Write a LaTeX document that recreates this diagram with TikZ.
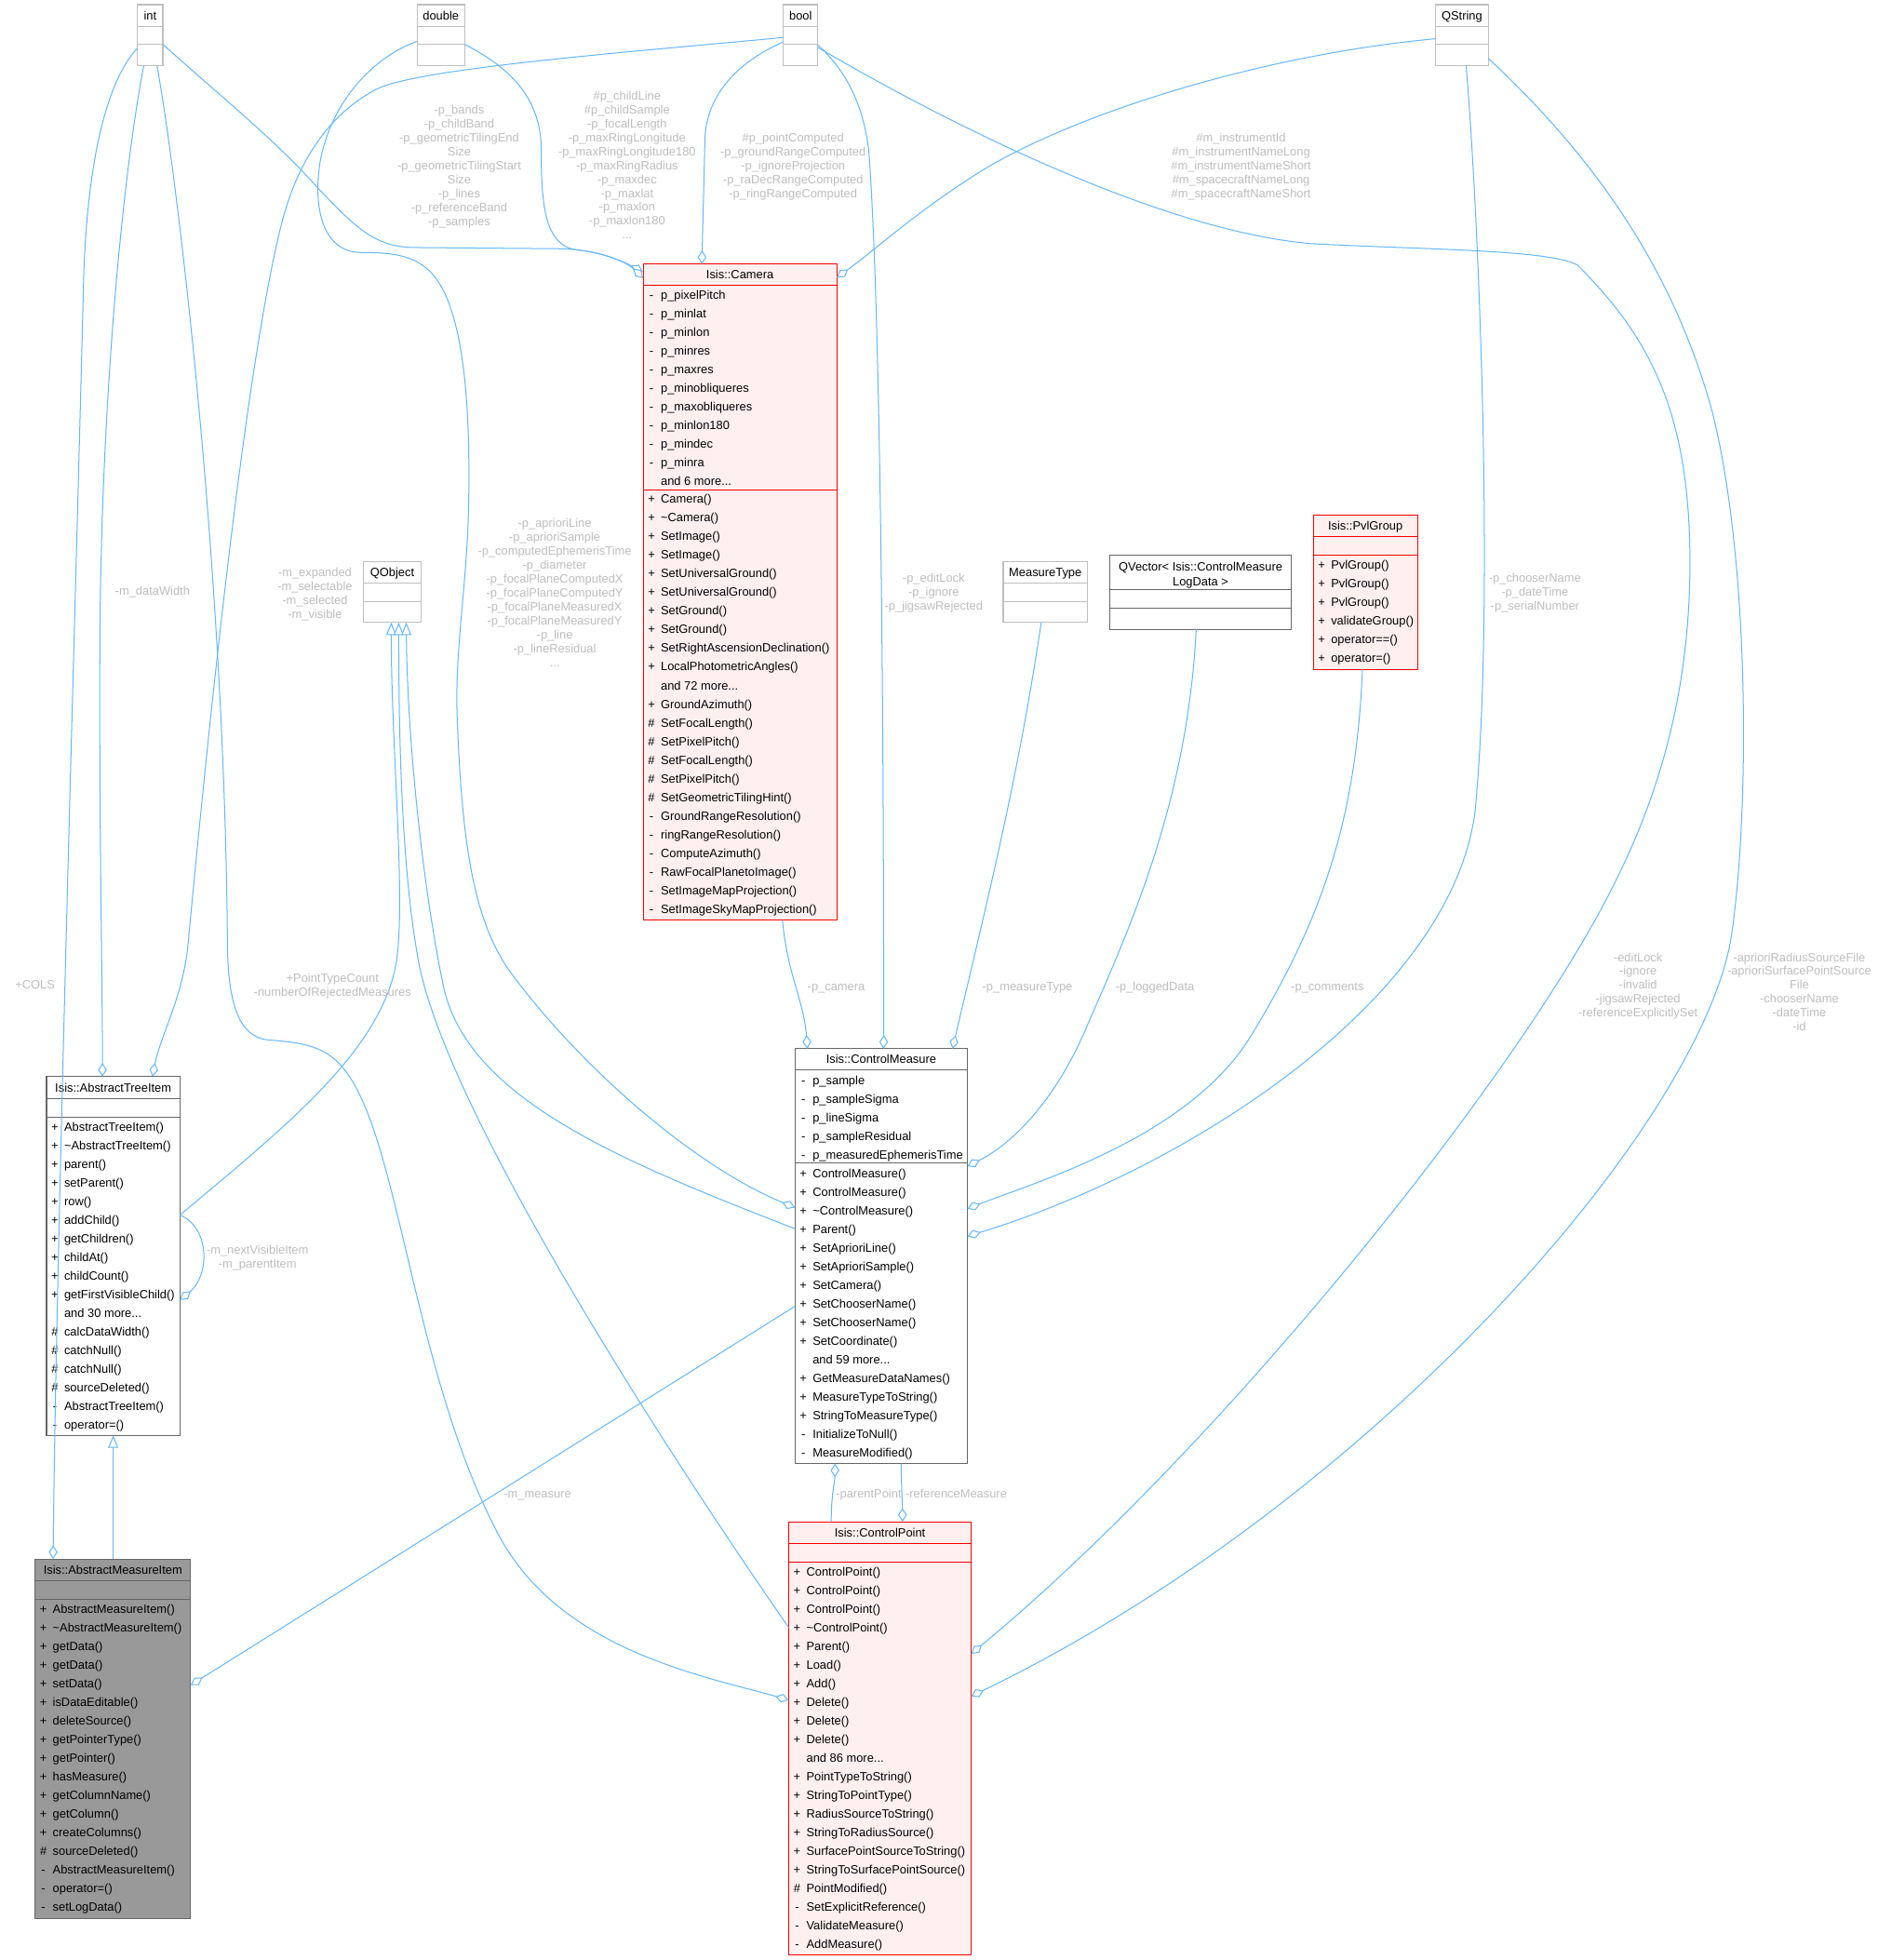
\documentclass[tikz,border=0pt]{standalone}
\usepackage{fontspec}
\setmainfont{Liberation Sans}
\usetikzlibrary{arrows.meta}
\definecolor{edgec}{HTML}{63B8FF}
\definecolor{lblc}{HTML}{BEBEBE}
\definecolor{docc}{HTML}{666666}
\definecolor{undocc}{HTML}{BFBFBF}
\definecolor{redc}{HTML}{FF0000}
\definecolor{redf}{HTML}{FFF0F0}
\definecolor{focusc}{HTML}{999999}
\newcommand\rowfont{\fontsize{9.6}{11.15}\selectfont}
\newcommand\dd{.\kern0pt.\kern0pt.}
\tikzset{
  bx/.style={rectangle, inner sep=0pt, outer sep=0pt, line width=0.8pt, anchor=north west},
  undoc/.style={bx, draw=undocc, fill=white},
  docb/.style={bx, draw=docc, fill=white},
  hot/.style={bx, draw=redc, fill=redf},
  focus/.style={bx, draw=docc, fill=focusc},
  rowt/.style={inner sep=0pt, font=\rowfont, text=black},
  lblt/.style={inner sep=0pt, font=\rowfont, text=lblc, anchor=base},
  edge/.style={draw=edgec, line width=0.75pt},
  comp/.style={edge, -{Diamond[fill=white, length=11pt, width=7pt, line width=0.75pt]}},
  inh/.style={edge, {Triangle[fill=white, length=10pt, width=8pt, line width=0.75pt]}-},
}
% separator line inside a box
\newcommand\hsep[3]{\draw[#1, line width=0.8pt] (#2.west |- 0,#3) -- (#2.east |- 0,#3);}
% member rows: name prefix, left x, first row centre y, list prefix/text
\newcommand\rows[4]{%
  \foreach \rpre/\rtxt [count=\i from 0] in {#4} {%
    \node[rowt, anchor=base] (#1p\i) at (#2+6.7, #3+3.4+14.9*\i) {\rpre};
    \node[rowt, anchor=base west] (#1t\i) at (#2+14, #3+3.4+14.9*\i) {\rtxt};
  }}
% edge label lines: name prefix, centre x, first line centre y, list
\newcommand\lbl[4]{%
  \foreach \lline [count=\i from 0] in {#4} {%
    \node[lblt] (#1\i) at (#2, #3+3.4+11.15*\i) {\lline};
  }}
\begin{document}
\begin{tikzpicture}[x=1pt,y=-1pt]
\fill[white] (0,0) rectangle (1502,1568);
\useasboundingbox (0,0) rectangle (1502,1568);

% ---------- simple boxes ----------
\node[undoc, minimum width=20.3pt, minimum height=48.9pt] (int) at (110,3.7) {};
\hsep{undocc}{int}{21.1}\hsep{undocc}{int}{35.5}
\node[rowt, anchor=base] (intT) at (120.15,15.8) {int};

\node[undoc, minimum width=38pt, minimum height=48.9pt] (double) at (333.7,3.7) {};
\hsep{undocc}{double}{21.1}\hsep{undocc}{double}{35.5}
\node[rowt, anchor=base] (doubleT) at (352.7,15.8) {double};

\node[undoc, minimum width=27.8pt, minimum height=48.9pt] (bool) at (626.6,3.7) {};
\hsep{undocc}{bool}{21.1}\hsep{undocc}{bool}{35.5}
\node[rowt, anchor=base] (boolT) at (640.5,15.8) {bool};

\node[undoc, minimum width=42.8pt, minimum height=48.9pt] (qstr) at (1148.2,3.7) {};
\hsep{undocc}{qstr}{21.1}\hsep{undocc}{qstr}{35.5}
\node[rowt, anchor=base] (qstrT) at (1169.6,15.8) {QString};

\node[undoc, minimum width=45.7pt, minimum height=49pt] (qobj) at (291,449) {};
\hsep{undocc}{qobj}{466.7}\hsep{undocc}{qobj}{481.5}
\node[rowt, anchor=base] (qobjT) at (313.85,461.2) {QObject};

\node[undoc, minimum width=67.4pt, minimum height=49pt] (mtype) at (802.6,449) {};
\hsep{undocc}{mtype}{466.7}\hsep{undocc}{mtype}{481.5}
\node[rowt, anchor=base] (mtypeT) at (836.3,461.2) {MeasureType};

\node[docb, minimum width=145pt, minimum height=59.6pt] (qvec) at (888,443.8) {};
\hsep{docc}{qvec}{471.8}\hsep{docc}{qvec}{486.7}
\node[rowt, anchor=base] (qvecT1) at (960.5,457.1) {QVector< Isis::ControlMeasure};
\node[rowt, anchor=base] (qvecT2) at (960.5,469.0) {LogData >};

% ---------- Isis::PvlGroup ----------
\node[hot, minimum width=83.3pt, minimum height=123.4pt] (pvl) at (1050.7,412) {};
\hsep{redc}{pvl}{428.9}\hsep{redc}{pvl}{444.3}
\node[rowt, anchor=base] (pvlT) at (1092.35,423.9) {Isis::PvlGroup};
\rows{pvl}{1050.7}{451.7}{+/PvlGroup(),+/PvlGroup(),+/PvlGroup(),+/validateGroup(),+/operator==(),+/operator=()}

% ---------- Isis::Camera ----------
\node[hot, minimum width=155pt, minimum height=524.7pt] (cam) at (514.5,211.3) {};
\hsep{redc}{cam}{228.4}\hsep{redc}{cam}{391.7}
\node[rowt, anchor=base] (camT) at (592,223.3) {Isis::Camera};
\rows{cama}{514.5}{235.6}{-/p\_pixelPitch,-/p\_minlat,-/p\_minlon,-/p\_minres,-/p\_maxres,-/p\_minobliqueres,-/p\_maxobliqueres,-/p\_minlon180,-/p\_mindec,-/p\_minra,{}/and 6 more\dd}
\rows{camm}{514.5}{399.3}{+/Camera(),+/\textasciitilde Camera(),+/SetImage(),+/SetImage(),+/SetUniversalGround(),+/SetUniversalGround(),+/SetGround(),+/SetGround(),+/SetRightAscensionDeclination(),+/LocalPhotometricAngles(),{}/and 72 more\dd,+/GroundAzimuth(),\#/SetFocalLength(),\#/SetPixelPitch(),\#/SetFocalLength(),\#/SetPixelPitch(),\#/SetGeometricTilingHint(),-/GroundRangeResolution(),-/ringRangeResolution(),-/ComputeAzimuth(),-/RawFocalPlanetoImage(),-/SetImageMapProjection(),-/SetImageSkyMapProjection()}

% ---------- Isis::AbstractTreeItem ----------
\node[docb, minimum width=106.8pt, minimum height=286.9pt] (ati) at (37.2,861.3) {};
\hsep{docc}{ati}{878.7}\hsep{docc}{ati}{893.6}
\node[rowt, anchor=base] (atiT) at (90.6,873.4) {Isis::AbstractTreeItem};
\rows{ati}{37.2}{901.5}{+/AbstractTreeItem(),+/\textasciitilde AbstractTreeItem(),+/parent(),+/setParent(),+/row(),+/addChild(),+/getChildren(),+/childAt(),+/childCount(),+/getFirstVisibleChild(),{}/and 30 more\dd,\#/calcDataWidth(),\#/catchNull(),\#/catchNull(),\#/sourceDeleted(),-/AbstractTreeItem(),-/operator=()}

% ---------- Isis::AbstractMeasureItem ----------
\node[focus, minimum width=124.6pt, minimum height=287.4pt] (ami) at (28,1247.2) {};
\hsep{docc}{ami}{1264.6}\hsep{docc}{ami}{1279.5}
\node[rowt, anchor=base] (amiT) at (90.3,1259.3) {Isis::AbstractMeasureItem};
\rows{ami}{28}{1287.2}{+/AbstractMeasureItem(),+/\textasciitilde AbstractMeasureItem(),+/getData(),+/getData(),+/setData(),+/isDataEditable(),+/deleteSource(),+/getPointerType(),+/getPointer(),+/hasMeasure(),+/getColumnName(),+/getColumn(),+/createColumns(),\#/sourceDeleted(),-/AbstractMeasureItem(),-/operator=(),-/setLogData()}

% ---------- Isis::ControlMeasure ----------
\node[docb, minimum width=138pt, minimum height=331.8pt] (cm) at (636,839) {};
\hsep{docc}{cm}{855.8}\hsep{docc}{cm}{930.3}
\node[rowt, anchor=base] (cmT) at (705,850.9) {Isis::ControlMeasure};
\rows{cma}{636}{864.3}{-/p\_sample,-/p\_sampleSigma,-/p\_lineSigma,-/p\_sampleResidual,-/p\_measuredEphemerisTime}
\rows{cmm}{636}{938.7}{+/ControlMeasure(),+/ControlMeasure(),+/\textasciitilde ControlMeasure(),+/Parent(),+/SetAprioriLine(),+/SetAprioriSample(),+/SetCamera(),+/SetChooserName(),+/SetChooserName(),+/SetCoordinate(),{}/and 59 more\dd,+/GetMeasureDataNames(),+/MeasureTypeToString(),+/StringToMeasureType(),-/InitializeToNull(),-/MeasureModified()}

% ---------- Isis::ControlPoint ----------
\node[hot, minimum width=146pt, minimum height=346.8pt] (cp) at (631,1217.4) {};
\hsep{redc}{cp}{1234.8}\hsep{redc}{cp}{1249.7}
\node[rowt, anchor=base] (cpT) at (704,1229.5) {Isis::ControlPoint};
\rows{cp}{631}{1257.6}{+/ControlPoint(),+/ControlPoint(),+/ControlPoint(),+/\textasciitilde ControlPoint(),+/Parent(),+/Load(),+/Add(),+/Delete(),+/Delete(),+/Delete(),{}/and 86 more\dd,+/PointTypeToString(),+/StringToPointType(),+/RadiusSourceToString(),+/StringToRadiusSource(),+/SurfacePointSourceToString(),+/StringToSurfacePointSource(),\#/PointModified(),-/SetExplicitReference(),-/ValidateMeasure(),-/AddMeasure()}

% ---------- connectors ----------
% int -> Camera
\draw[comp] (int.east |- 0,35.5) .. controls (180,80) and (220,112) .. (253,149) .. controls (285,183) and (300,197) .. (330,198) -- (450,199) .. controls (480,200) and (500,210) .. (cam.west |- 0,217.5);
% double -> Camera
\draw[comp] (double.east |- 0,35.5) .. controls (410,55) and (433,80) .. (433,120) .. controls (433,165) and (436,197) .. (462,200) .. controls (490,203) and (505,213) .. (cam.west |- 0,222.5);
% double -> ControlMeasure
\draw[comp] (double.west |- 0,33) .. controls (300,45) and (265,80) .. (256,130) .. controls (250,170) and (260,202) .. (289,202) .. controls (320,202) and (342,205) .. (356,235) .. controls (372,270) and (376,330) .. (375,400) .. controls (374,470) and (363,520) .. (366,580) .. controls (370,680) and (380,740) .. (410,780) .. controls (470,860) and (560,935) .. (cm.west |- 0,966);
% QObject -> AbstractTreeItem / ControlPoint / ControlMeasure (inheritance)
\draw[inh] (qobj.south -| 313,0) .. controls (313,600) and (325,720) .. (317,770) .. controls (305,840) and (230,900) .. (ati.east |- 0,972);
\draw[inh] (qobj.south -| 319,0) .. controls (319,600) and (322,700) .. (335,770) .. controls (360,900) and (560,1200) .. (cp.west |- 0,1302);
\draw[inh] (qobj.south -| 325,0) .. controls (326,600) and (340,720) .. (355,790) .. controls (375,880) and (500,930) .. (cm.west |- 0,983);
% bool -> AbstractTreeItem
\draw[comp] (bool.west |- 0,30) .. controls (500,42) and (330,55) .. (300,72) .. controls (270,88) and (240,120) .. (225,180) .. controls (195,300) and (165,600) .. (150,760) .. controls (145,800) and (128,830) .. (ati.north -| 122,0);
% int -> AbstractTreeItem
\draw[comp] (int.south -| 115,0) .. controls (100,130) and (82,300) .. (80,500) .. controls (79,650) and (82,780) .. (ati.north -| 82,0);
% int -> AbstractMeasureItem
\draw[comp] (int.west |- 0,38.5) .. controls (85,65) and (70,130) .. (67,220) .. controls (60,500) and (45,1000) .. (ami.north -| 42.5,0);
% int -> ControlPoint
\draw[comp] (int.south -| 125.6,0) .. controls (140,130) and (180,450) .. (182,760) .. controls (183,800) and (190,830) .. (215,832) .. controls (240,834) and (260,836) .. (275,855) .. controls (320,910) and (330,1100) .. (400,1230) .. controls (450,1320) and (560,1340) .. (cp.west |- 0,1360);
% bool -> Camera
\draw[comp] (bool.west |- 0,33.5) .. controls (590,50) and (566,75) .. (564,110) -- (cam.north -| 561.5,0);
% bool -> ControlMeasure
\draw[comp] (bool.east |- 0,36) .. controls (675,55) and (690,80) .. (695,120) .. controls (705,250) and (707,600) .. (cm.north -| 707,0);
% bool -> ControlPoint
\draw[comp] (bool.east |- 0,38) .. controls (760,100) and (930,185) .. (1050,195) .. controls (1150,200) and (1240,200) .. (1262,212) .. controls (1320,270) and (1352,330) .. (1352,450) .. controls (1352,600) and (1300,700) .. (1250,780) .. controls (1150,940) and (950,1180) .. (cp.east |- 0,1323);
% QString -> Camera
\draw[comp] (qstr.west |- 0,31) .. controls (1000,45) and (850,95) .. (780,140) .. controls (730,172) and (700,200) .. (cam.east |- 0,222);
% QString -> ControlMeasure
\draw[comp] (qstr.south -| 1173,0) .. controls (1185,200) and (1195,500) .. (1180,650) .. controls (1160,800) and (950,935) .. (cm.east |- 0,989);
% QString -> ControlPoint
\draw[comp] (qstr.east |- 0,47) .. controls (1280,130) and (1340,220) .. (1370,330) .. controls (1400,450) and (1400,650) .. (1385,750) .. controls (1360,900) and (1100,1200) .. (cp.east |- 0,1357);
% Camera -> ControlMeasure
\draw[comp] (cam.south -| 626,0) .. controls (630,780) and (643,800) .. (cm.north -| 646,0);
% MeasureType -> ControlMeasure
\draw[comp] (mtype.south -| 833,0) .. controls (815,620) and (790,720) .. (cm.north -| 762,0);
% QVector -> ControlMeasure
\draw[comp] (qvec.south -| 957,0) .. controls (950,640) and (905,740) .. (870,820) .. controls (845,880) and (810,915) .. (cm.east |- 0,933);
% PvlGroup -> ControlMeasure
\draw[comp] (pvl.south -| 1090,0) .. controls (1085,660) and (1055,740) .. (1000,830) .. controls (950,910) and (830,945) .. (cm.east |- 0,967);
% ControlPoint -> ControlMeasure (parentPoint)
\draw[comp] (cp.north -| 665,0) .. controls (665,1195) and (668,1185) .. (cm.south -| 668,0);
% ControlMeasure -> ControlPoint (referenceMeasure)
\draw[comp] (cm.south -| 721,0) .. controls (721,1190) and (722,1200) .. (cp.north -| 722,0);
% ControlMeasure -> AbstractMeasureItem
\draw[comp] (cm.west |- 0,1045) -- (ami.east |- 0,1348);
% AbstractTreeItem <- AbstractMeasureItem
\draw[inh] (ati.south -| 90.6,0) -- (ami.north -| 90.6,0);
% AbstractTreeItem self
\draw[comp] (ati.east |- 0,972) .. controls (168,982) and (168,1020) .. (ati.east |- 0,1040);

% ---------- labels ----------
\lbl{lA}{367.4}{87.6}{-p\_bands,-p\_childBand,-p\_geometricTilingEnd,Size,-p\_geometricTilingStart,Size,-p\_lines,-p\_referenceBand,-p\_samples}
\lbl{lB}{501.7}{76.4}{\#p\_childLine,\#p\_childSample,-p\_focalLength,-p\_maxRingLongitude,-p\_maxRingLongitude180,-p\_maxRingRadius,-p\_maxdec,-p\_maxlat,-p\_maxlon,-p\_maxlon180,\dd}
\lbl{lC}{634.5}{110}{\#p\_pointComputed,-p\_groundRangeComputed,-p\_ignoreProjection,-p\_raDecRangeComputed,-p\_ringRangeComputed}
\lbl{lD}{992.9}{110}{\#m\_instrumentId,\#m\_instrumentNameLong,\#m\_instrumentNameShort,\#m\_spacecraftNameLong,\#m\_spacecraftNameShort}
\lbl{lE}{252}{458}{-m\_expanded,-m\_selectable,-m\_selected,-m\_visible}
\lbl{lF}{443.8}{418.2}{-p\_aprioriLine,-p\_aprioriSample,-p\_computedEphemerisTime,-p\_diameter,-p\_focalPlaneComputedX,-p\_focalPlaneComputedY,-p\_focalPlaneMeasuredX,-p\_focalPlaneMeasuredY,-p\_line,-p\_lineResidual,\dd}
\lbl{lG}{122}{473}{-m\_dataWidth}
\lbl{lH}{747}{462}{-p\_editLock,-p\_ignore,-p\_jigsawRejected}
\lbl{lI}{1228}{462}{-p\_chooserName,-p\_dateTime,-p\_serialNumber}
\lbl{lJ}{28}{788}{+COLS}
\lbl{lK}{266}{782.3}{+PointTypeCount,-numberOfRejectedMeasures}
\lbl{lL}{669}{788.8}{-p\_camera}
\lbl{lM}{822}{788.8}{-p\_measureType}
\lbl{lN}{924}{788.8}{-p\_loggedData}
\lbl{lO}{1062}{788.8}{-p\_comments}
\lbl{lP}{1310.5}{765.7}{-editLock,-ignore,-invalid,-jigsawRejected,-referenceExplicitlySet}
\lbl{lQ}{1439.5}{765.7}{-aprioriRadiusSourceFile,-aprioriSurfacePointSource,File,-chooserName,-dateTime,-id}
\lbl{lR}{206}{999.8}{-m\_nextVisibleItem,-m\_parentItem}
\lbl{lS}{695}{1195}{-parentPoint}
\lbl{lT}{765}{1195}{-referenceMeasure}
\lbl{lU}{430}{1195}{-m\_measure}
\end{tikzpicture}
\end{document}
